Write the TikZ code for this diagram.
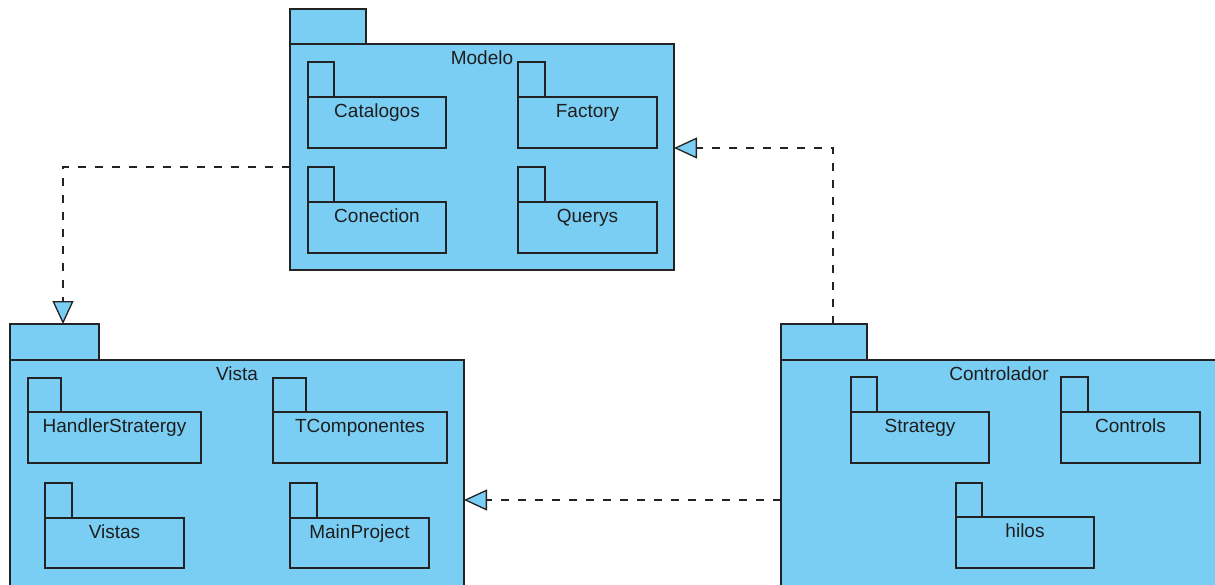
\documentclass[tikz,border=0pt]{standalone}
\usepackage{fontspec}
\setmainfont{Liberation Sans}
\usetikzlibrary{arrows.meta,calc}

\definecolor{pkgfill}{RGB}{122,206,244}
\definecolor{pkgline}{RGB}{35,35,35}
\definecolor{pkgtext}{RGB}{30,30,30}

\tikzset{
  pkgshape/.style={rectangle, draw=pkgline, fill=pkgfill, line width=1.3pt,
    anchor=north west, inner sep=0pt, outer sep=0pt},
  pkgname/.style={anchor=base, inner sep=0pt, text=pkgtext,
    font=\fontsize{19}{22}\selectfont},
  realize/.style={draw=pkgline, line width=1.3pt, dash pattern=on 8pt off 9pt,
    -{Triangle[length=23pt, width=21pt, fill=pkgfill]}},
}

% UML package: name, x, y (top of tab), tab w, tab h, body w, body h, title
\newcommand{\umlpackage}[8]{%
  \node[pkgshape, minimum width=#4pt, minimum height=#5pt] (#1tab) at (#2,#3) {};
  \node[pkgshape, minimum width=#6pt, minimum height=#7pt] (#1) at (#1tab.south west) {};
  \node[pkgname] (#1title) at ($(#1.north)+(0,20)$) {#8};
}

\begin{document}
\begin{tikzpicture}[x=1pt, y=-1pt]
  \useasboundingbox (0,0) rectangle (1215,584);
  \clip (0,0) rectangle (1215,584);

  % Modelo
  \umlpackage{modelo}{290}{9}{76}{35}{384}{226}{Modelo}
  \umlpackage{catalogos}{308}{62}{26}{35}{138}{51}{Catalogos}
  \umlpackage{factory}{518}{62}{27}{35}{139}{51}{Factory}
  \umlpackage{conection}{308}{167}{26}{35}{138}{51}{Conection}
  \umlpackage{querys}{518}{167}{27}{35}{139}{51}{Querys}

  % Vista
  \umlpackage{vista}{10}{324}{89}{36}{454}{300}{Vista}
  \umlpackage{handler}{28}{378}{33}{34}{173}{51}{HandlerStratergy}
  \umlpackage{tcomp}{273}{378}{33}{34}{174}{51}{TComponentes}
  \umlpackage{vistas}{45}{483}{27}{35}{139}{50}{Vistas}
  \umlpackage{mainproj}{290}{483}{27}{35}{139}{50}{MainProject}

  % Controlador
  \umlpackage{controlador}{781}{324}{86}{36}{436}{300}{Controlador}
  \umlpackage{strategy}{851}{377}{26}{35}{138}{51}{Strategy}
  \umlpackage{controls}{1061}{377}{27}{35}{139}{51}{Controls}
  \umlpackage{hilos}{956}{483}{26}{34}{138}{51}{hilos}

  % connector end points
  \coordinate (vistain) at ($(vistatab.north west)+(53,0)$);
  \coordinate (ctrlout) at ($(controladortab.north west)+(52,0)$);
  \coordinate (lowrow) at (0,500);

  % dependencies
  \draw[realize] (modelo.west |- conectiontab.north) -| (vistain);
  \draw[realize] (ctrlout) |- (modelo.east |- factory.south);
  \draw[realize] (controlador.west |- lowrow) -- (vista.east |- lowrow);
\end{tikzpicture}
\end{document}
